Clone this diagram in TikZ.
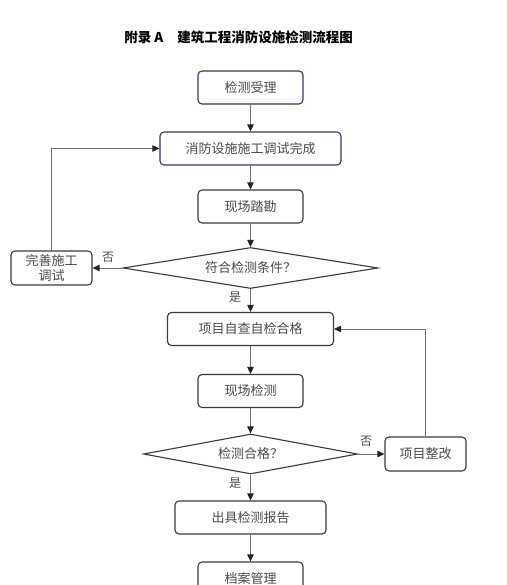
\documentclass[tikz,border=0pt]{standalone}
\usepackage{fontspec}
\setmainfont{Noto Sans CJK SC}
\usetikzlibrary{shapes.geometric,arrows.meta}
\definecolor{boxblue}{HTML}{2E3B66}
\definecolor{boxgray}{HTML}{3A3A3A}
\definecolor{linegray}{HTML}{707070}
\definecolor{textgray}{HTML}{4A4A4A}

\begin{document}
\begin{tikzpicture}[x=1pt,y=-1pt,>={Triangle[length=7pt,width=6.5pt,color=black!85]}]
\tikzstyle{flowbox}=[rectangle,rounded corners=4pt,draw=boxgray,line width=1.1pt,text=textgray,font=\fontsize{13}{15}\selectfont,minimum height=33pt,inner sep=1pt,align=center]
\tikzstyle{check}=[diamond,aspect=6,draw=boxgray,line width=1.1pt,inner sep=0pt,text=textgray,font=\fontsize{13}{15}\selectfont]
\tikzstyle{flow}=[draw=linegray,line width=0.9pt,->]
\tikzstyle{answer}=[text=textgray,font=\fontsize{12}{14}\selectfont,inner sep=0pt]
\useasboundingbox (0,0) rectangle (506,585);

\node[font=\bfseries\fontsize{13.5}{16}\selectfont] (title) at (238.5,37) {附录 A\hspace{14pt}建筑工程消防设施检测流程图};

\node[flowbox,draw=boxblue,minimum width=105pt](accept) at (250.5,87.5) {检测受理};
\node[flowbox,draw=boxblue,minimum width=181pt](finish) at (250.5,148.5) {消防设施施工调试完成};
\node[flowbox,minimum width=105pt](survey) at (250.5,206.5) {现场踏勘};
\node[check,minimum width=255pt,minimum height=41pt](cond) at (250.5,268) {符合检测条件？};
\node[flowbox,minimum width=81pt,minimum height=34pt](improve) at (51.5,268) {完善施工\\调试};
\node[flowbox,minimum width=166pt](self) at (250.5,329) {项目自查自检合格};
\node[flowbox,minimum width=105pt](onsite) at (250.5,391) {现场检测};
\node[check,minimum width=214pt,minimum height=40pt](pass) at (250.5,454) {检测合格？};
\node[flowbox,minimum width=81pt,minimum height=34pt](rectify) at (425.5,454) {项目整改};
\node[flowbox,minimum width=151pt](report) at (250.5,517.5) {出具检测报告};
\node[flowbox,minimum width=105pt](archive) at (250.5,578.5) {档案管理};

\node[answer](no1) at (108,257) {否};
\node[answer](yes1) at (235,297) {是};
\node[answer](no2) at (366,441) {否};
\node[answer](yes2) at (235,483) {是};

\draw[flow] (accept) -- (finish);
\draw[flow] (finish) -- (survey);
\draw[flow] (survey) -- (cond);
\draw[flow] (cond) -- (improve);
\draw[flow] (improve) |- (finish);
\draw[flow] (cond) -- (self);
\draw[flow] (self) -- (onsite);
\draw[flow] (onsite) -- (pass);
\draw[flow] (pass) -- (rectify);
\draw[flow] (rectify) |- (self);
\draw[flow] (pass) -- (report);
\draw[flow] (report) -- (archive);
\end{tikzpicture}
\end{document}
